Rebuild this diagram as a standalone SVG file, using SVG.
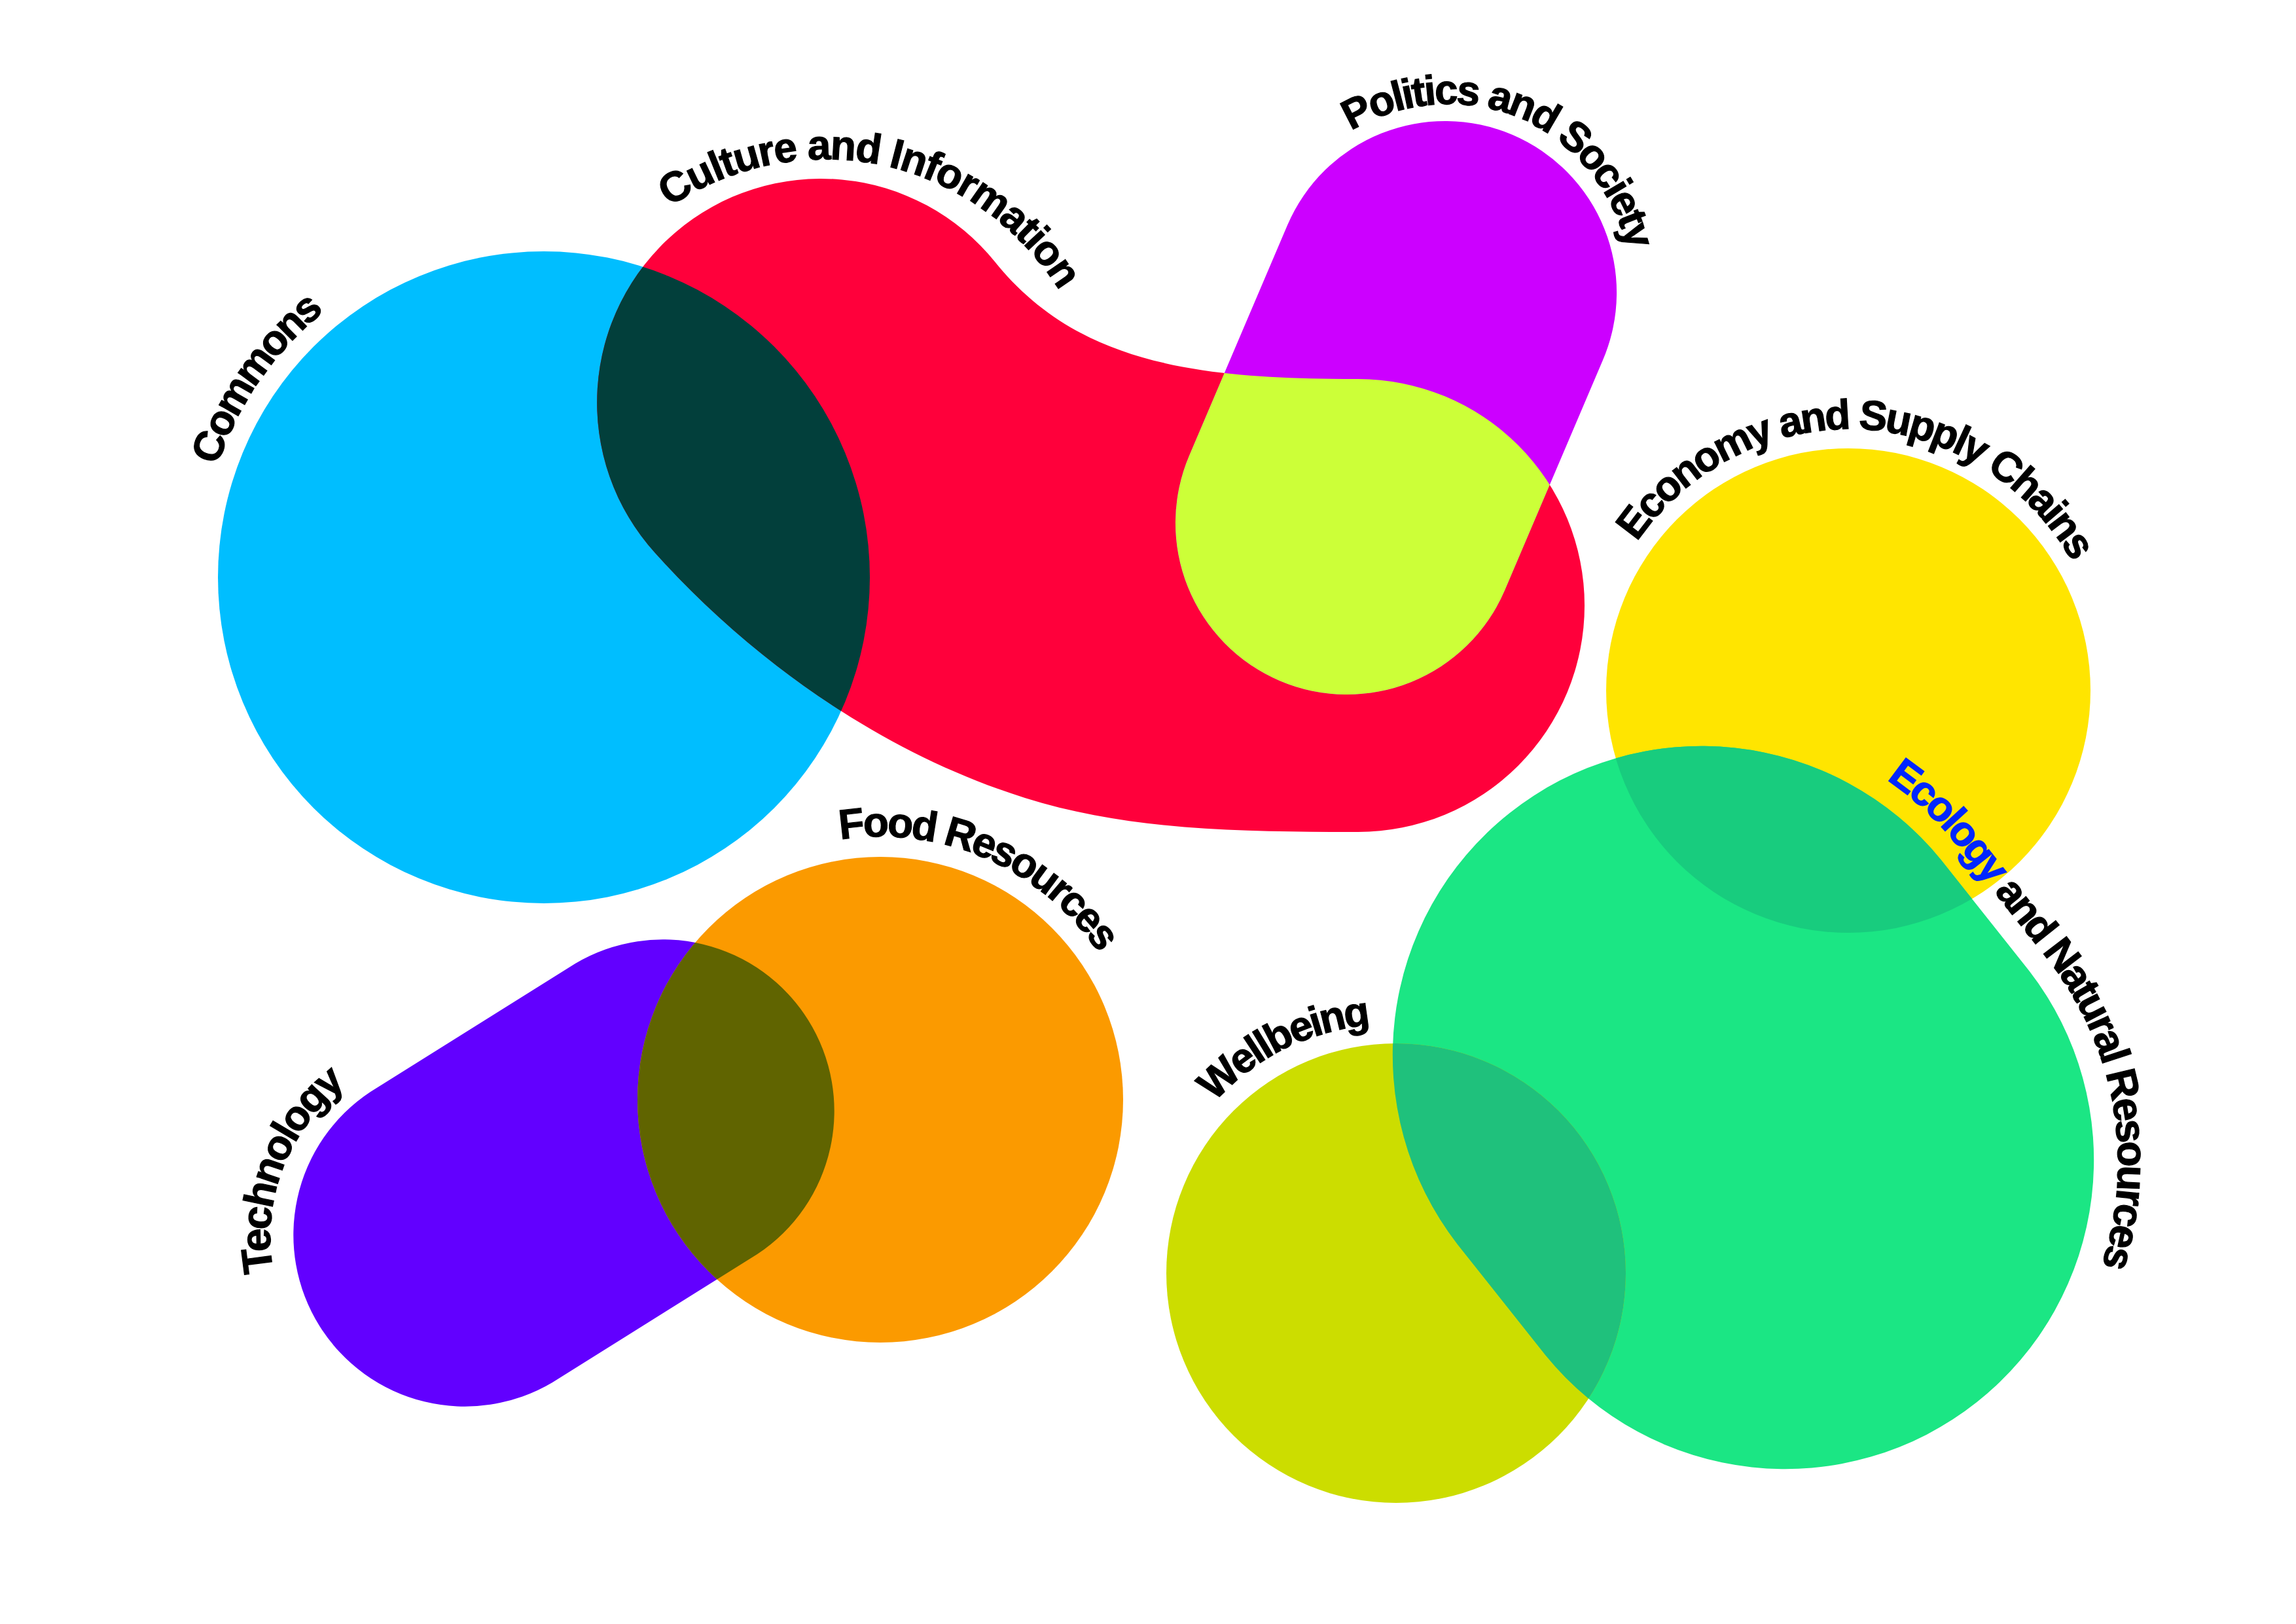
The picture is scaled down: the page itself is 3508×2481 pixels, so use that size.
<svg xmlns="http://www.w3.org/2000/svg" width="3508" height="2481" viewBox="0 0 3508 2481">
<style>
.lbl{font-family:"Liberation Sans",Arial,sans-serif;font-weight:bold;font-size:64px;letter-spacing:-3.5px;fill:#000;stroke:#000;stroke-width:1.2px;text-anchor:middle}
.eco{fill:#0026FF;stroke:#0026FF}
</style>
<defs>
<circle id="s-commons" cx="831" cy="882" r="498"/>
<path id="s-culture" d="M1000.9,844.8 A342,342 0 1 1 1520.8,400.8 C1646.7,556.2 1830,579 2075,579 A346,346 0 0 1 2421,925 A346,346 0 0 1 2075,1271 C1905,1271 1728,1270 1566,1219 C1351,1151.5 1151.4,1012.2 1000.9,844.8 Z"/>
<path id="s-politics" d="M2449,550 L2299,902 A262,262 0 0 1 1817,696 L1967,344 A262,262 0 0 1 2449,550 Z"/>
<circle id="s-economy" cx="2824" cy="1055" r="370"/>
<path id="s-ecology" d="M2965.6,1313.5 L3100.6,1483.5 A472,472 0 0 1 2361.4,2070.5 L2226.4,1900.5 A472,472 0 0 1 2965.6,1313.5 Z"/>
<circle id="s-wellbeing" cx="2133" cy="1945" r="351"/>
<path id="s-technology" d="M566,1668 L879,1472 A262,262 0 0 1 1157,1916 L844,2112 A262,262 0 0 1 566,1668 Z"/>
<circle id="s-food" cx="1345" cy="1680" r="371"/>
<clipPath id="c-commons"><use href="#s-commons"/></clipPath>
<clipPath id="c-politics"><use href="#s-politics"/></clipPath>
<clipPath id="c-economy"><use href="#s-economy"/></clipPath>
<clipPath id="c-wellbeing"><use href="#s-wellbeing"/></clipPath>
<clipPath id="c-food"><use href="#s-food"/></clipPath>
<path id="p-commons" d="M1266.1,1181.1 A528,528 0 0 1 395.9,582.9 A528,528 0 0 1 1266.1,1181.1"/>
<path id="p-culture" d="M1170.6,1083.7 A425,425 0 0 1 1347.4,252.3 A425,425 0 0 1 1170.6,1083.7"/>
<path id="p-politics" d="M2094.7,713.9 A290,290 0 0 1 2321.3,180.1 A290,290 0 0 1 2094.7,713.9"/>
<path id="p-economy" d="M2807.2,1454.6 A400,400 0 0 1 2840.8,655.4 A400,400 0 0 1 2807.2,1454.6"/>
<path id="p-ecology" d="M2423.3,1132.5 A505,505 0 0 1 2991.5,1293 L3126.5,1463 A505,505 0 0 1 2818.7,2274.3"/>
<path id="p-wellbeing" d="M2303.9,2287.7 A383,383 0 0 1 1962.1,1602.3 A383,383 0 0 1 2303.9,2287.7"/>
<path id="p-food" d="M1184.7,2048.7 A402,402 0 0 1 1505.3,1311.3 A402,402 0 0 1 1184.7,2048.7"/>
<path id="p-technology" d="M977.6,1994.7 A292,292 0 0 1 432.4,1785.3 A292,292 0 0 1 977.6,1994.7"/>
</defs>
<rect width="3508" height="2481" fill="#fff"/>
<g id="commons">
<use href="#s-commons" fill="#00BEFF"/>
<text class="lbl"><textPath href="#p-commons" startOffset="50%">Commons</textPath></text>
</g>
<g id="culture-and-information">
<use href="#s-culture" fill="#FF003B"/>
<text class="lbl" style="letter-spacing:-2px"><textPath href="#p-culture" startOffset="50%">Culture and Information</textPath></text>
</g>
<g id="politics-and-society">
<use href="#s-politics" fill="#CC00FF"/>
<text class="lbl"><textPath href="#p-politics" startOffset="50%">Politics and Society</textPath></text>
</g>
<g id="economy-and-supply-chains">
<use href="#s-economy" fill="#FFE500"/>
<text class="lbl"><textPath href="#p-economy" startOffset="50%">Economy and Supply Chains</textPath></text>
</g>
<g id="ecology-and-natural-resources">
<use href="#s-ecology" fill="#1BE684"/>
<text class="lbl" style="text-anchor:start"><textPath href="#p-ecology" startOffset="480"><tspan class="eco">Ecology</tspan> and Natural Resources</textPath></text>
</g>
<g id="wellbeing">
<use href="#s-wellbeing" fill="#CCDD00"/>
<text class="lbl"><textPath href="#p-wellbeing" startOffset="50%">Wellbeing</textPath></text>
</g>
<g id="technology">
<use href="#s-technology" fill="#6200FF"/>
<text class="lbl"><textPath href="#p-technology" startOffset="50%">Technology</textPath></text>
</g>
<g id="food-resources">
<use href="#s-food" fill="#FB9A00"/>
<text class="lbl"><textPath href="#p-food" startOffset="50%">Food Resources</textPath></text>
</g>
<g id="overlaps">
<use href="#s-culture" fill="#023F3B" clip-path="url(#c-commons)"/>
<use href="#s-culture" fill="#CCFF38" clip-path="url(#c-politics)"/>
<use href="#s-ecology" fill="#18CC7E" clip-path="url(#c-economy)"/>
<use href="#s-ecology" fill="#1FC17C" clip-path="url(#c-wellbeing)"/>
<use href="#s-technology" fill="#606400" clip-path="url(#c-food)"/>
</g>
<g id="connectors"/>
</svg>
